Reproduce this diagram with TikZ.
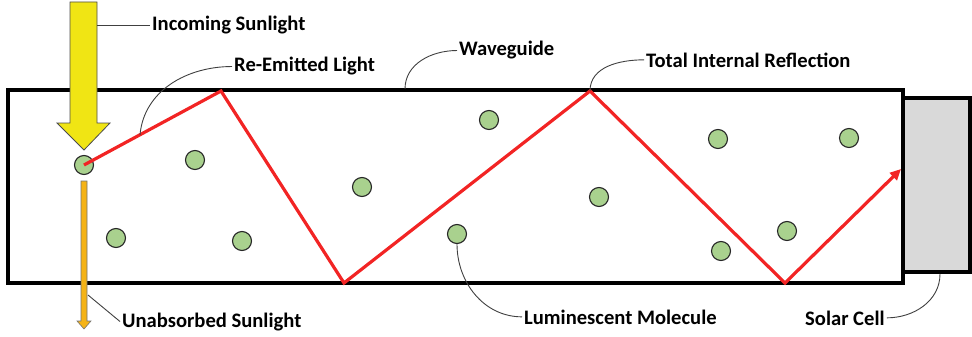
\documentclass[tikz,border=0pt]{standalone}
\usepackage{fontspec}
\setmainfont{Carlito}
\usetikzlibrary{arrows.meta, positioning}

\definecolor{molgreen}{HTML}{A9D18E}
\definecolor{sunyellow}{HTML}{F0E514}
\definecolor{sunorange}{HTML}{F5B316}
\definecolor{rayred}{HTML}{F22424}
\definecolor{cellgray}{HTML}{D9D9D9}

\begin{document}
\begin{tikzpicture}[x=1pt, y=-1pt,
  mol/.style={circle, draw=black!85, line width=1.1pt, fill=molgreen, minimum size=19pt, inner sep=0pt},
  lbl/.style={font=\fontsize{20.6}{24}\selectfont\bfseries, inner sep=2pt, anchor=base west},
  lead/.style={draw=black!75, line width=0.9pt},
  ray/.style={draw=rayred, line width=3.2pt}]

\useasboundingbox (0,0) rectangle (972,337);

% waveguide and solar cell
\draw[line width=4pt] (8,90) rectangle (903,283);
\draw[line width=4pt, fill=cellgray] (903,98) rectangle (970,272);

% luminescent molecules
\foreach \n/\x/\y in {1/84/165, 2/195/160, 3/116/238, 4/242/241, 5/362/187, 6/489/120,
                      7/457/234, 8/599/197, 9/718/139, 10/849/138, 11/721/251, 12/787/231}
  \node (m\n)[mol] at (\x,\y) {};

% bounce points of the re-emitted ray
\coordinate (b1) at (221,91);
\coordinate (b2) at (344,283);
\coordinate (b3) at (590,91);
\coordinate (b4) at (785,283);
\coordinate (hit) at (901,169);

\draw[ray, -{Triangle[length=11pt, width=10pt]}] (m1.center) -- (b1) -- (b2) -- (b3) -- (b4) -- (hit);

% incoming and unabsorbed sunlight
\draw[draw=black!70, line width=0.8pt, fill=sunyellow]
  (70,2) -- (97,2) -- (97,123) -- (110,123) -- (84,150) -- (57,123) -- (70,123) -- cycle;
\draw[draw=black!55, line width=0.6pt, fill=sunorange]
  (81,181) -- (87,181) -- (87,321) -- (91,321) -- (84,329) -- (77,321) -- (81,321) -- cycle;

% labels
\node (inc)[lbl] at (150,31) {Incoming Sunlight};
\node (reem)[lbl] at (232,72) {Re-Emitted Light};
\node (wave)[lbl] at (457,56) {Waveguide};
\node (tir)[lbl] at (644,67) {Total Internal Reflection};
\node (lum)[lbl] at (522,324) {Luminescent Molecule};
\node (sol)[lbl] at (803,325) {Solar Cell};
\node (unab)[lbl] at (120,327) {Unabsorbed Sunlight};

% leader lines
\coordinate (shaft) at (97,24);
\coordinate (emit) at (140,135);
\coordinate (wtop) at (405,89);
\coordinate (cellfoot) at (940,274);
\coordinate (passfoot) at (88,295);

\draw[lead] (shaft |- inc.west) -- (inc.west);
\draw[lead] (emit) to[out=85, in=180] (reem.west);
\draw[lead] (wtop) to[out=90, in=180] (wave.west);
\draw[lead] (b3) to[out=90, in=180] (tir.west);
\draw[lead] (m7.south) to[out=-90, in=180] (lum.west);
\draw[lead] (sol.east) to[out=0, in=-90] (cellfoot);
\draw[lead] (passfoot) -- (unab.west);
\end{tikzpicture}
\end{document}
